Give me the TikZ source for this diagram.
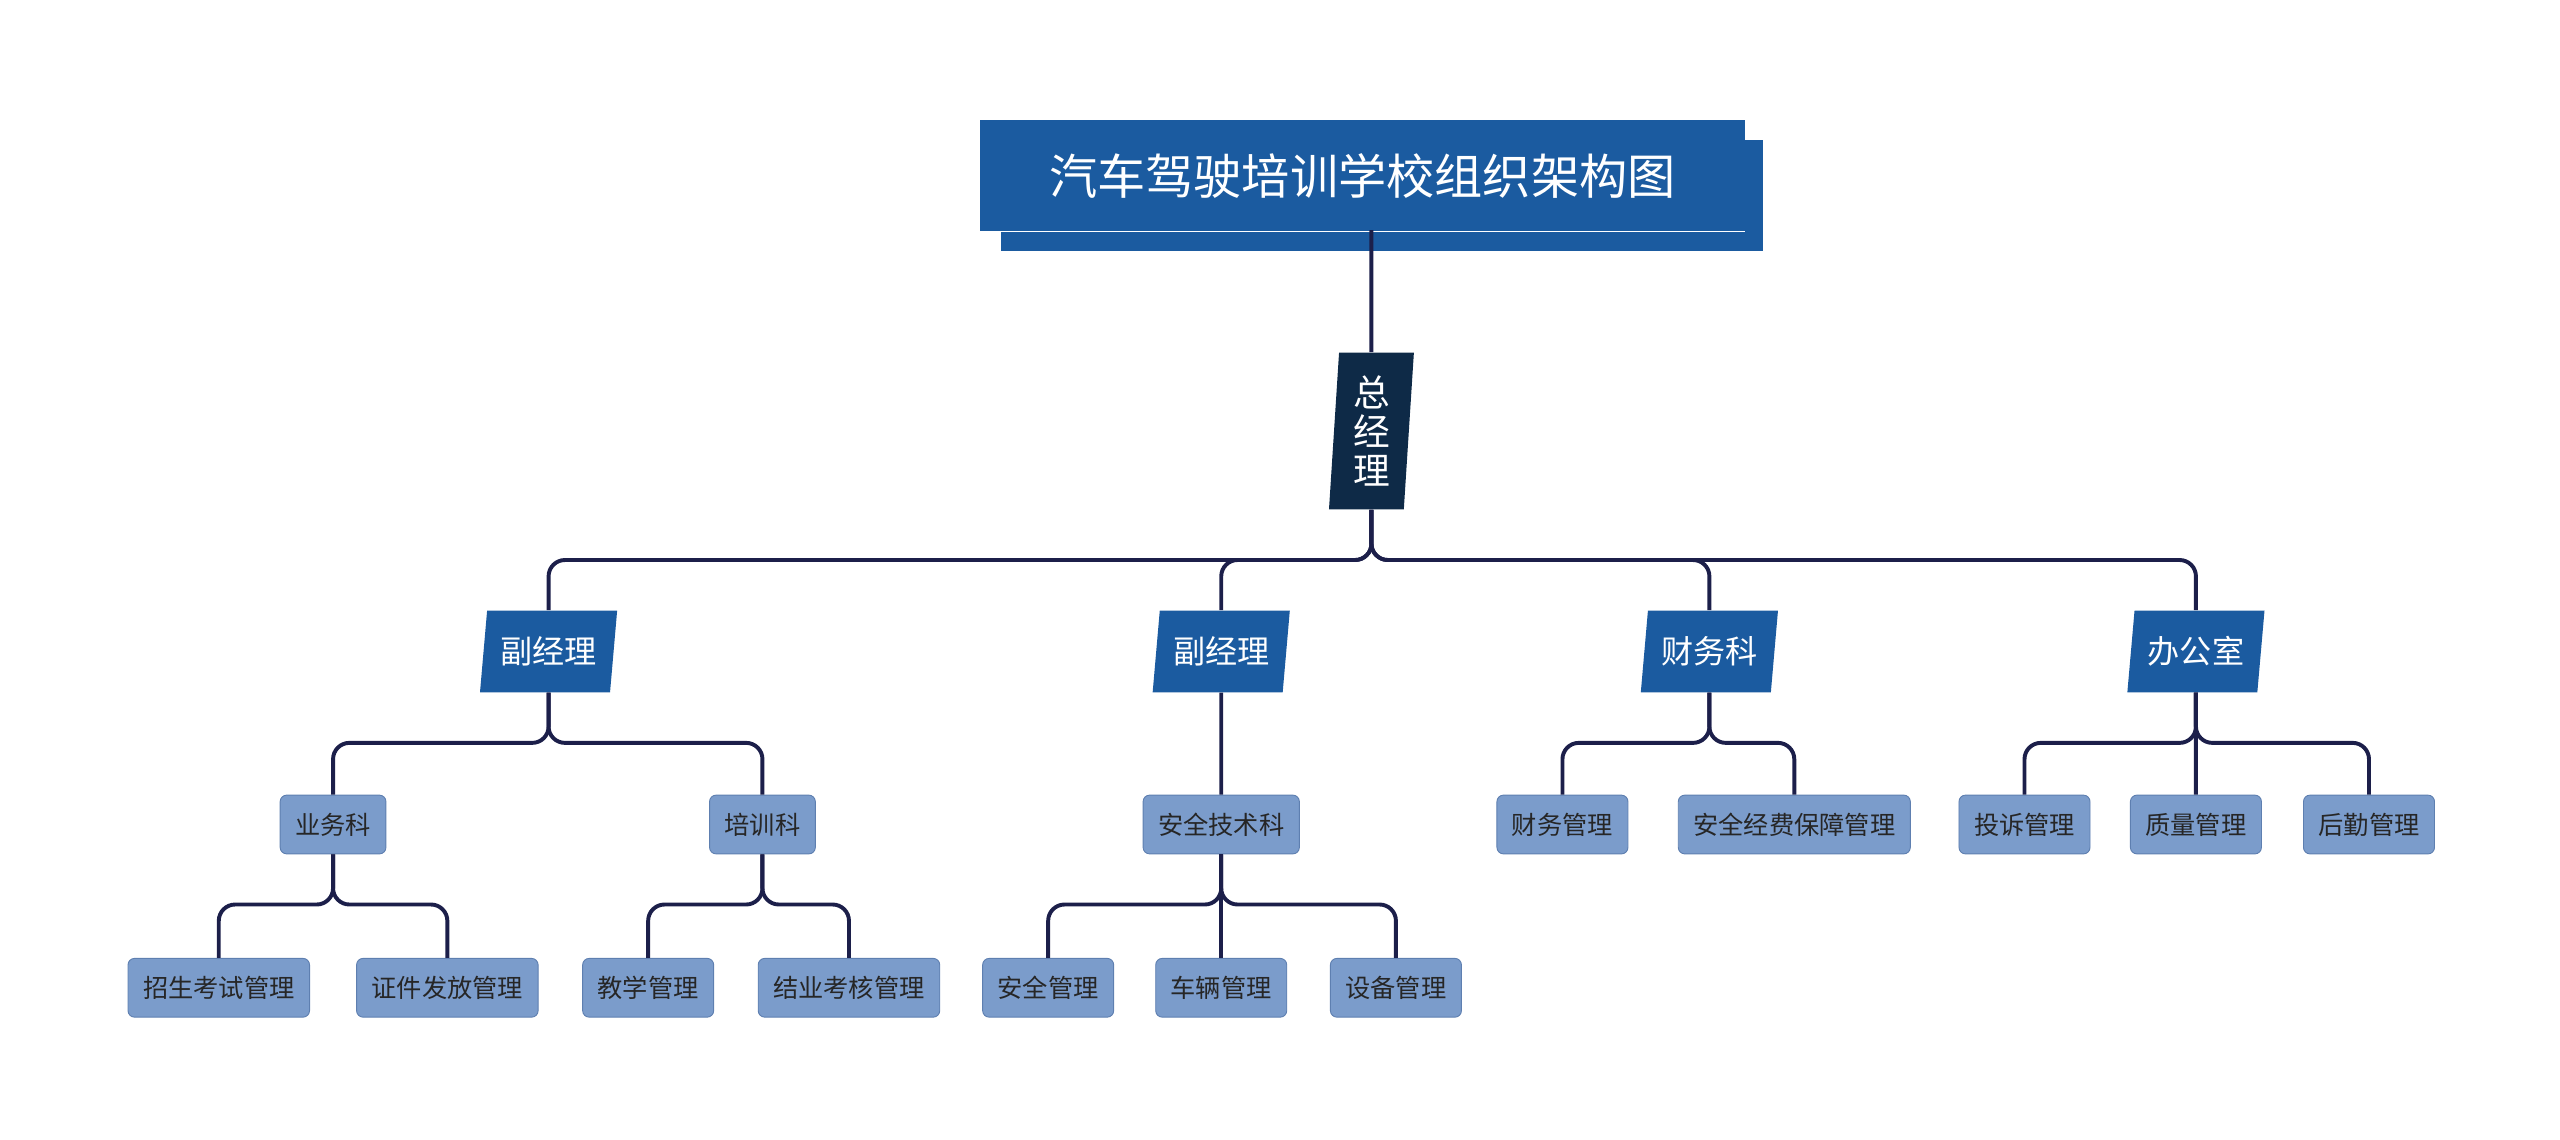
\documentclass[tikz,border=0pt]{standalone}
\usepackage{fontspec}
\setmainfont{Noto Sans CJK SC}
\usetikzlibrary{positioning,shapes.geometric}
\definecolor{titleBlue}{HTML}{1B5BA0}
\definecolor{navyBlue}{HTML}{0E2A47}
\definecolor{leafBlue}{HTML}{7B9CCB}
\definecolor{leafLine}{HTML}{5E7FB0}
\definecolor{wireColor}{HTML}{1C1F4A}
\begin{document}
\begin{tikzpicture}[x=0.25mm,y=-0.25mm]
            \tikzset{
                titleNode/.style={
                        rectangle,
                        fill=titleBlue,
                        text=white,
                        minimum width=117mm,
                        minimum height=17mm,
                        font=\fontsize{21}{24}\selectfont
                    }
            }
            \tikzset{
                bossNode/.style={
                        trapezium,
                        trapezium left angle=85,
                        trapezium right angle=95,
                        trapezium stretches body,
                        fill=navyBlue,
                        text=white,
                        align=center,
                        inner sep=1pt,
                        minimum width=13mm,
                        minimum height=24mm,
                        font=\fontsize{16}{17}\selectfont
                    }
            }
            \tikzset{
                deptNode/.style={
                        trapezium,
                        trapezium left angle=81,
                        trapezium right angle=99,
                        trapezium stretches body,
                        fill=titleBlue,
                        text=white,
                        minimum width=21mm,
                        minimum height=12.5mm,
                        inner xsep=1pt,
                        font=\fontsize{14}{16}\selectfont
                    }
            }
            \tikzset{
                leafNode/.style={
                        rectangle,
                        rounded corners=1mm,
                        draw=leafLine,
                        fill=leafBlue,
                        text=black!85,
                        minimum height=9mm,
                        inner xsep=2.3mm,
                        font=\fontsize{11}{13}\selectfont
                    }
            }
            \tikzset{
                wire/.style={
                        draw=wireColor,
                        line width=0.6mm,
                        rounded corners=2.5mm
                    }
            }
            \useasboundingbox (0,0) rectangle (1568,698);
            % Placing nodes
            \fill[titleBlue] (613,86) rectangle (1080,154);
            \draw[white,line width=0.5mm] (601,74) rectangle (1068,141);
            \node[titleNode](title) at (834.5,107.5){汽车驾驶培训学校组织架构图};
            \node[bossNode](boss) at (840,264){总\\经\\理};
            \node[deptNode](vice1) at (336,399){副经理};
            \node[deptNode](vice2) at (748,399){副经理};
            \node[deptNode](finance) at (1047,399){财务科};
            \node[deptNode](office) at (1345,399){办公室};
            \node[leafNode](business) at (204,505){业务科};
            \node[leafNode](training) at (467,505){培训科};
            \node[leafNode](safetyTech) at (748,505){安全技术科};
            \node[leafNode](finMgmt) at (957,505){财务管理};
            \node[leafNode](fundMgmt) at (1099,505){安全经费保障管理};
            \node[leafNode](complaint) at (1240,505){投诉管理};
            \node[leafNode](quality) at (1345,505){质量管理};
            \node[leafNode](logistics) at (1451,505){后勤管理};
            \node[leafNode](enroll) at (134,605){招生考试管理};
            \node[leafNode](license) at (274,605){证件发放管理};
            \node[leafNode](teaching) at (397,605){教学管理};
            \node[leafNode](exam) at (520,605){结业考核管理};
            \node[leafNode](safety) at (642,605){安全管理};
            \node[leafNode](vehicle) at (748,605){车辆管理};
            \node[leafNode](equip) at (855,605){设备管理};
            % Draw connectors
            \draw[wire] (840,141) -- (boss.north);
            \foreach \child in {vice1,vice2,finance,office}
                \draw[wire] (boss.south) |- (\child.north |- 0,343) -- (\child.north);
            \foreach \parent/\child in {vice1/business,vice1/training,finance/finMgmt,finance/fundMgmt,office/complaint,office/logistics}
                \draw[wire] (\parent.south) |- (\child.north |- 0,455) -- (\child.north);
            \foreach \parent/\child in {business/enroll,business/license,training/teaching,training/exam,safetyTech/safety,safetyTech/equip}
                \draw[wire] (\parent.south) |- (\child.north |- 0,554) -- (\child.north);
            \foreach \parent/\child in {vice2/safetyTech,office/quality,safetyTech/vehicle}
                \draw[wire] (\parent.south) -- (\child.north);
        \end{tikzpicture}
\end{document}
